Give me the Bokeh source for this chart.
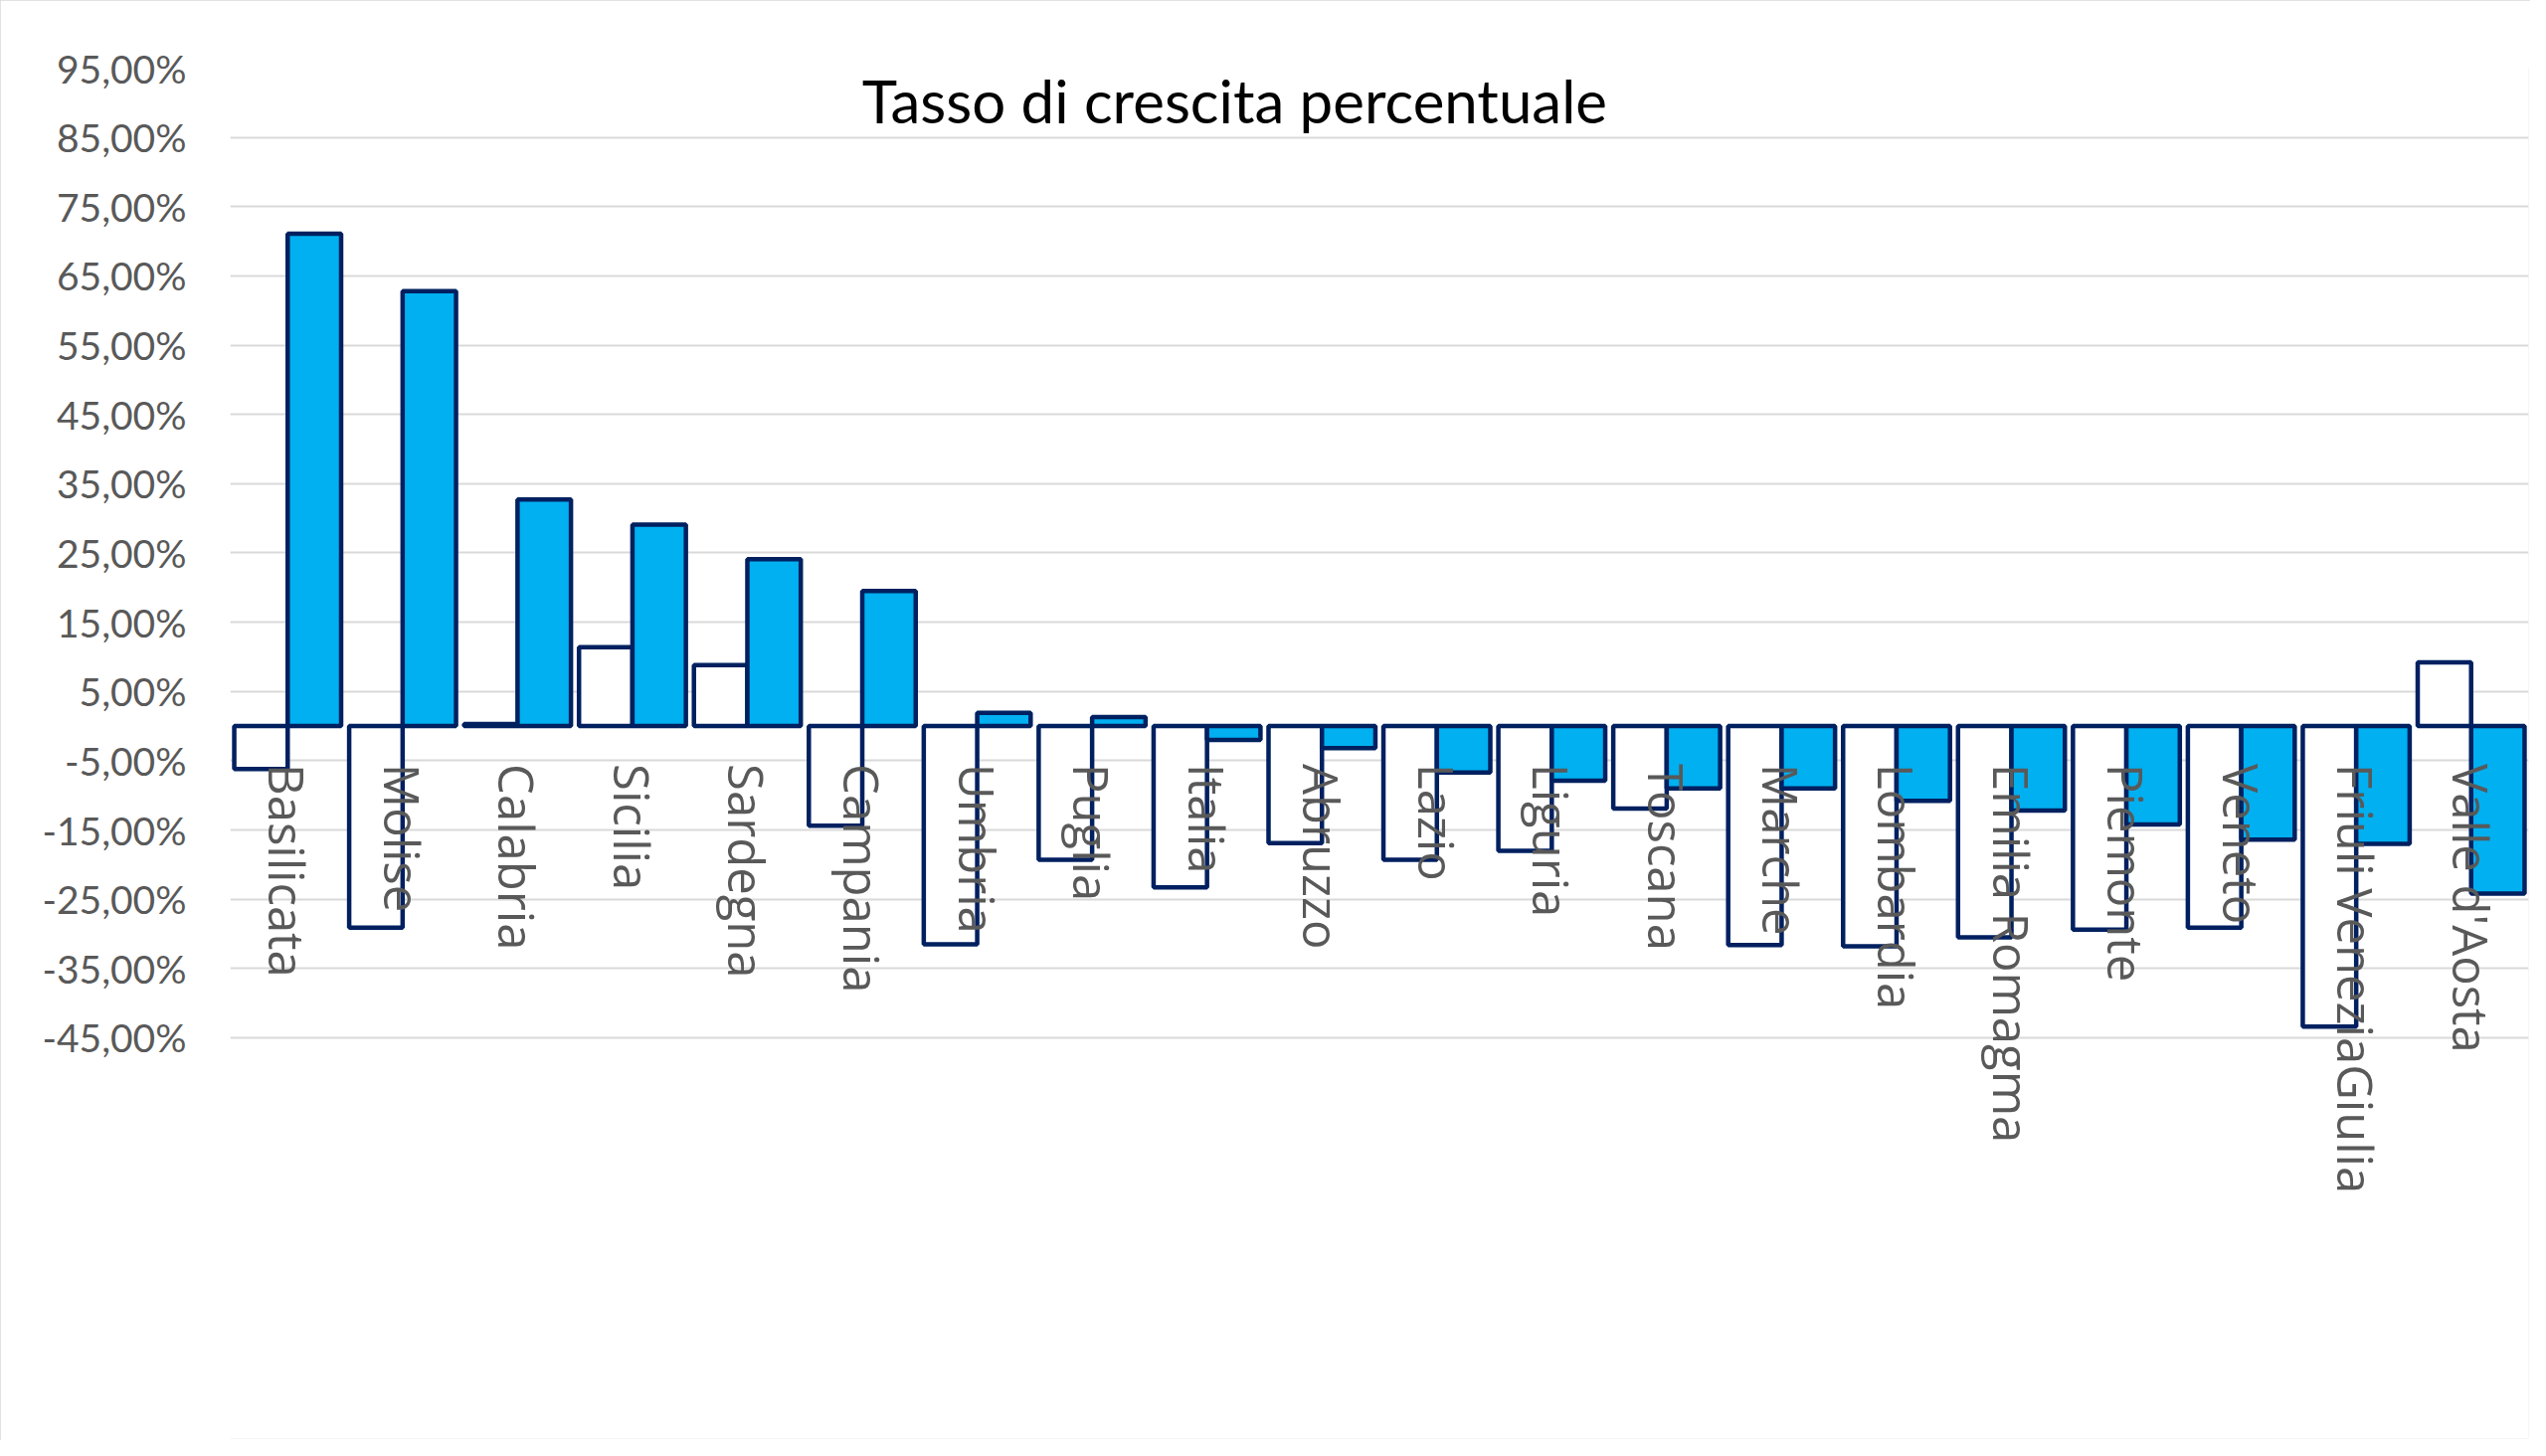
import math
from bokeh.plotting import figure
from bokeh.models import FactorRange, Range1d, FixedTicker, ColumnDataSource, Label
from bokeh.transform import dodge
from bokeh.core.properties import value
from bokeh.embed import file_html
from bokeh.resources import INLINE

# ---- data ----
regions = ["Basilicata", "Molise", "Calabria", "Sicilia", "Sardegna", "Campania",
           "Umbria", "Puglia", "Italia", "Abruzzo", "Lazio", "Liguria", "Toscana",
           "Marche", "Lombardia", "Emilia Romagma", "Piemonte", "Veneto",
           "Friuli VeneziaGiulia", "Valle d'Aosta"]
series_white = [-6.2, -29.1, 0.3, 11.4, 8.8, -14.4, -31.5, -19.3, -23.3, -16.9,
                -19.3, -18.0, -11.9, -31.6, -31.8, -30.5, -29.4, -29.1, -43.4, 9.2]
series_blue = [71.1, 62.8, 32.7, 29.1, 24.1, 19.5, 1.9, 1.3, -2.0, -3.2,
               -6.7, -7.9, -9.0, -9.0, -10.8, -12.2, -14.2, -16.4, -17.0, -24.2]
y_ticks = [-45, -35, -25, -15, -5, 5, 15, 25, 35, 45, 55, 65, 75, 85, 95]
tick_labels = {t: ("%.2f" % t).replace(".", ",") + "%" for t in y_ticks}
title_text = "Tasso di crescita percentuale"

src = ColumnDataSource(dict(cat=regions, white=series_white, blue=series_blue,
                            zero=[0] * len(regions)))

NAVY = "#002060"
BLUE = "#00B0F0"
GRAY = "#595959"

W, H = 2544, 1448
TOP, LEFT, RIGHT, BOTTOM = 68, 231, 2, 2
PX_PER_PCT = 6.964
y_max = 95
y_min = y_max - (H - TOP - BOTTOM) / PX_PER_PCT   # extend below so labels aren't clipped

p = figure(x_range=FactorRange(*regions, range_padding=0),
           y_range=Range1d(y_min, y_max),
           width=W, height=H,
           output_backend="svg", toolbar_location=None,
           min_border_left=LEFT, min_border_right=RIGHT,
           min_border_top=TOP, min_border_bottom=BOTTOM)
p.title.visible = False
p.outline_line_color = None
p.background_fill_color = "white"
p.border_fill_color = "white"
p.styles = {"outline": "2px solid #D9D9D9", "outline-offset": "-2px"}

bw = 0.465
p.vbar(x=dodge("cat", -bw / 2, range=p.x_range), top="white", bottom="zero",
       width=bw, source=src, fill_color="white", line_color=NAVY, line_width=4.5)
p.vbar(x=dodge("cat", bw / 2, range=p.x_range), top="blue", bottom="zero",
       width=bw, source=src, fill_color=BLUE, line_color=NAVY, line_width=4.5)

p.text(x="cat", y="zero", text="cat", source=src, angle=-math.pi / 2,
       text_align="left", text_baseline="middle", y_offset=38,
       text_font=value("Open Sans"), text_font_size="49px", text_color=GRAY)

p.xaxis.visible = False
p.xgrid.visible = False

p.yaxis.ticker = FixedTicker(ticks=y_ticks)
p.yaxis.major_label_overrides = tick_labels
p.yaxis.axis_line_color = None
p.yaxis.major_tick_line_color = None
p.yaxis.minor_tick_line_color = None
p.yaxis.major_label_standoff = 38
p.yaxis.major_label_text_font = "Lato"
p.yaxis.major_label_text_font_size = "39px"
p.yaxis.major_label_text_color = GRAY

p.ygrid.ticker = FixedTicker(ticks=y_ticks)
p.ygrid.grid_line_color = "#D9D9D9"
p.ygrid.grid_line_width = 2

title = Label(x=8.74, y=90.4, text=title_text, text_align="center",
              text_baseline="alphabetic", text_font="Lato",
              text_font_size="60px", text_color="black")
p.add_layout(title)

open("out.html", "w").write(file_html(p, INLINE))
